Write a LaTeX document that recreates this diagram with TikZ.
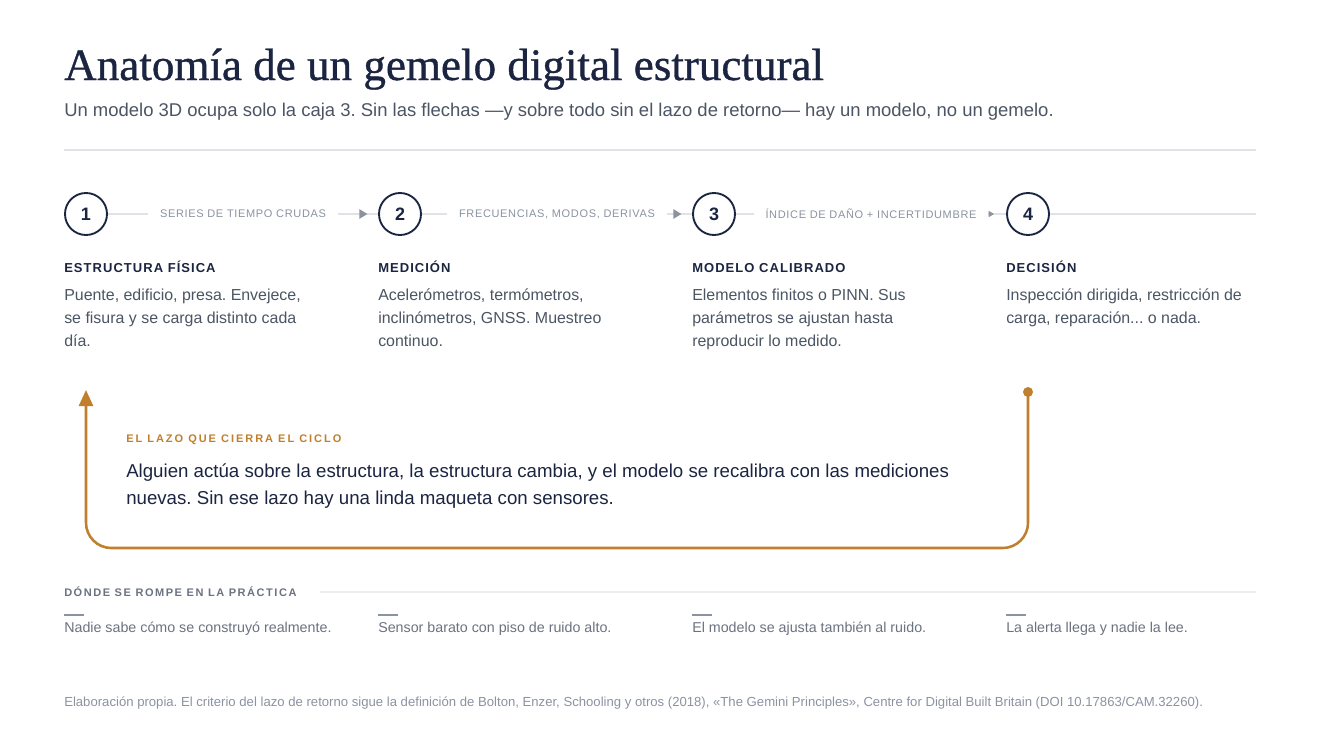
\documentclass[tikz,border=0pt]{standalone}
\usepackage{fontspec}
\setmainfont{Liberation Sans}
\newfontfamily\titlefont[FakeBold=0.8]{Liberation Serif}
\newfontfamily\capsfont[LetterSpace=6]{Liberation Sans}
\newfontfamily\capshead[LetterSpace=8]{Liberation Sans}
\newfontfamily\capsloop[LetterSpace=18]{Liberation Sans}
\newfontfamily\capsfail[LetterSpace=14]{Liberation Sans}
\usetikzlibrary{arrows.meta,decorations.markings}
\definecolor{navy}{HTML}{1B2541}
\definecolor{bodygray}{HTML}{4B5563}
\definecolor{softgray}{HTML}{6B7280}
\definecolor{labelgray}{HTML}{8B93A1}
\definecolor{rulegray}{HTML}{DFE2E7}
\definecolor{faintrule}{HTML}{ECEEF2}
\definecolor{loopor}{HTML}{C07F2C}
\tikzset{
  stepcirc/.style={circle, draw=navy, line width=1.4pt, minimum size=31.5pt, inner sep=0pt,
    text=navy, font=\fontsize{13.5}{16}\selectfont\bfseries},
  conn/.style={draw=rulegray, line width=1.1pt},
  connlabel/.style={fill=white, inner xsep=9pt, inner ysep=2pt, text=labelgray,
    font=\capsfont\fontsize{8.25}{10}\selectfont},
  arrowbig/.style={postaction={decorate}, decoration={markings,
    mark=at position -8pt with {\arrow[labelgray]{Triangle[length=6pt,width=7pt]}}}},
  arrowsmall/.style={postaction={decorate}, decoration={markings,
    mark=at position -9pt with {\arrow[labelgray]{Triangle[length=4pt,width=4.5pt]}}}},
  heading/.style={anchor=base west, inner sep=0pt, text=navy,
    font=\capshead\fontsize{9.75}{12}\selectfont\bfseries},
  bodytext/.style={anchor=north west, inner sep=0pt, align=left, text=bodygray,
    font=\fontsize{11.95}{17.25}\selectfont},
  looppath/.style={draw=loopor, line width=1.9pt, rounded corners=19pt},
  loopdot/.style={circle, fill=loopor, inner sep=0pt, minimum size=7.5pt},
  failtext/.style={anchor=base west, inner sep=0pt, text=softgray,
    font=\fontsize{10.7}{12}\selectfont},
  faildash/.style={draw=labelgray, line width=1.5pt},
}
\newcommand{\topfix}{\rule{0pt}{11.5pt}}
\frenchspacing
\begin{document}
\begin{tikzpicture}[x=0.75pt,y=-0.75pt]
\useasboundingbox[fill=white] (0,0) rectangle (1320,750);

% title
\node[anchor=base west, inner sep=0pt, text=navy, font=\titlefont\fontsize{33.8}{38}\selectfont]
  (title) at (64,80) {Anatomía de un gemelo digital estructural};
\node[anchor=base west, inner sep=0pt, text=bodygray, font=\fontsize{13.85}{16}\selectfont]
  (subtitle) at (64,116) {Un modelo 3D ocupa solo la caja 3. Sin las flechas —y sobre todo sin el lazo de retorno— hay un modelo, no un gemelo.};
\coordinate (r1) at (64,150);
\coordinate (r2) at (1256,150);
\draw[draw=rulegray, line width=0.9pt] (r1) -- (r2);

% steps
\node[stepcirc] (c1) at (86,214) {1};
\node[stepcirc] (c2) at (400,214) {2};
\node[stepcirc] (c3) at (714,214) {3};
\node[stepcirc] (c4) at (1028,214) {4};
\coordinate (cend) at (1256,214);

\draw[conn, arrowbig] (c1.east) -- node[connlabel] (l1) {SERIES DE TIEMPO CRUDAS} (c2.west);
\draw[conn, arrowbig] (c2.east) -- node[connlabel] (l2) {FRECUENCIAS, MODOS, DERIVAS} (c3.west);
\draw[conn, arrowsmall] (c3.east) -- node[connlabel] (l3) {ÍNDICE DE DAÑO + INCERTIDUMBRE} (c4.west);
\draw[conn] (c4.east) -- (cend);

% headings
\node[heading] (h1) at (64,272) {ESTRUCTURA FÍSICA};
\node[heading] (h2) at (378,272) {MEDICIÓN};
\node[heading] (h3) at (692,272) {MODELO CALIBRADO};
\node[heading] (h4) at (1006,272) {DECISIÓN};

% bodies
\node[bodytext] (b1) at (64,284.7) {\topfix Puente, edificio, presa. Envejece,\\se fisura y se carga distinto cada\\día.};
\node[bodytext] (b2) at (378,284.7) {\topfix Acelerómetros, termómetros,\\inclinómetros, GNSS. Muestreo\\continuo.};
\node[bodytext] (b3) at (692,284.7) {\topfix Elementos finitos o PINN. Sus\\parámetros se ajustan hasta\\reproducir lo medido.};
\node[bodytext] (b4) at (1006,284.7) {\topfix Inspección dirigida, restricción de\\carga, reparación... o nada.};

% loop
\node[loopdot] (ld) at (1028,392) {};
\coordinate (lc1) at (1028,548);
\coordinate (lc2) at (86,548);
\coordinate (lt) at (86,390);
\draw[looppath, -{Triangle[length=12pt,width=10.5pt]}] (ld.center) -- (lc1) -- (lc2) -- (lt);

\node[anchor=base west, inner sep=0pt, text=loopor, font=\capsloop\fontsize{8.25}{10}\selectfont\bfseries]
  (lh) at (126,442) {EL LAZO QUE CIERRA EL CICLO};
\node[anchor=north west, inner sep=0pt, align=left, text=navy, font=\fontsize{14}{20.25}\selectfont]
  (lb) at (126,461.7) {\topfix Alguien actúa sobre la estructura, la estructura cambia, y el modelo se recalibra con las mediciones\\nuevas. Sin ese lazo hay una linda maqueta con sensores.};

% failure row
\node[anchor=base west, inner sep=0pt, text=softgray, font=\capsfail\fontsize{8.25}{10}\selectfont\bfseries]
  (fh) at (64,596) {DÓNDE SE ROMPE EN LA PRÁCTICA};
\coordinate (fr1) at (320,592);
\coordinate (fr2) at (1256,592);
\draw[draw=faintrule, line width=0.9pt] (fr1) -- (fr2);

\foreach \x/\t [count=\i] in {64/{Nadie sabe cómo se construyó realmente.},
    378/{Sensor barato con piso de ruido alto.},
    692/{El modelo se ajusta también al ruido.},
    1006/{La alerta llega y nadie la lee.}} {
  \coordinate (d\i a) at (\x,615);
  \coordinate (d\i b) at (\x+20,615);
  \draw[faildash] (d\i a) -- (d\i b);
  \node[failtext] (f\i) at (\x,632) {\t};
}

% footer
\node[anchor=base west, inner sep=0pt, text=labelgray, font=\fontsize{9.85}{11}\selectfont]
  (foot) at (64,706) {Elaboración propia. El criterio del lazo de retorno sigue la definición de Bolton, Enzer, Schooling y otros (2018), «The Gemini Principles», Centre for Digital Built Britain (DOI 10.17863/CAM.32260).};
\end{tikzpicture}
\end{document}
